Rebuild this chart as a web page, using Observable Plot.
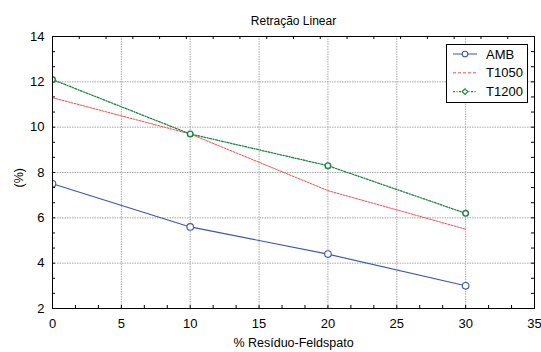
<!DOCTYPE html>
<html>
<head>
<meta charset="utf-8">
<script src="https://cdn.jsdelivr.net/npm/d3@7"></script>
<script src="https://cdn.jsdelivr.net/npm/@observablehq/plot@0.6"></script>
<style>
  html, body { margin: 0; padding: 0; background: #fff; }
</style>
</head>
<body>
<div id="chart"></div>
<script>
// ---- data ----
const title = "Retração Linear";
const xLabel = "% Resíduo-Feldspato";
const yLabel = "(%)";
const seriesNames = ["AMB", "T1050", "T1200"];
const xValues = [0, 10, 20, 30];
const ambValues = [7.5, 5.6, 4.4, 3.0];
const t1050Values = [11.3, 9.7, 7.2, 5.5];
const t1200Values = [12.1, 9.7, 8.3, 6.2];
const xTicks = [0, 5, 10, 15, 20, 25, 30, 35];
const yTicks = [2, 4, 6, 8, 10, 12, 14];

// ---- styles ----
const colors = { AMB: "#3a56b4", T1050: "#ff4a4a", T1200: "#1d8544" };
const dashes = { AMB: null, T1050: "2,1.2", T1200: "2,1.5,1,1.5" };
const legendDashes = { AMB: null, T1050: "3,2", T1200: "2,1.5,1,1.5" };

const W = 541, H = 352;
const mL = 52, mR = 7, mT = 36, mB = 44;
const fw = W - mL - mR, fh = H - mT - mB;

const valuesBySeries = { AMB: ambValues, T1050: t1050Values, T1200: t1200Values };
const rows = seriesNames.flatMap(s => xValues.map((x, i) => ({ series: s, x, y: valuesBySeries[s][i] })));
const bySeries = s => rows.filter(r => r.series === s);

const gridX = xTicks.slice(1, -1);
const gridY = yTicks.slice(1, -1);
const bottomMinor = d3.range(0, 35.001, 5 / 3);
const topMinor = d3.range(0, 35.001, 35 / 18);
const sideMinor = d3.range(2, 14.001, 2 / 3);

const gridStyle = { stroke: "#a8a8a8", strokeDasharray: "1.5,1", strokeWidth: 1 };

const plot = Plot.plot({
  width: W,
  height: H,
  marginLeft: mL, marginRight: mR, marginTop: mT, marginBottom: mB,
  style: { fontFamily: "'Liberation Sans', Arial, sans-serif", fontSize: "13px", background: "#fff", color: "#000" },
  x: { domain: [0, 35], ticks: xTicks, tickSize: 0, tickPadding: 10, label: null },
  y: { domain: [2, 14], ticks: yTicks, tickSize: 0, tickPadding: 8, label: null },
  marks: [
    Plot.ruleX(gridX, { x: d => d, ...gridStyle }),
    Plot.ruleY(gridY, { y: d => d, ...gridStyle }),
    Plot.tickX(bottomMinor, { x: d => d, insetTop: fh - 3, stroke: "#000" }),
    Plot.tickX(topMinor, { x: d => d, insetBottom: fh - 3, stroke: "#000" }),
    Plot.tickY(sideMinor, { y: d => d, insetRight: fw - 3, stroke: "#000" }),
    Plot.tickY(sideMinor, { y: d => d, insetLeft: fw - 3, stroke: "#000" }),
    Plot.line(bySeries("T1050"), { x: "x", y: "y", stroke: colors.T1050, strokeWidth: 1, strokeDasharray: dashes.T1050, clip: true }),
    Plot.line(bySeries("AMB"), { x: "x", y: "y", stroke: colors.AMB, strokeWidth: 1.1, clip: true }),
    Plot.line(bySeries("T1200"), { x: "x", y: "y", stroke: colors.T1200, strokeWidth: 1.3, strokeDasharray: dashes.T1200, clip: true }),
    Plot.dot(bySeries("AMB"), { x: "x", y: "y", r: 3.3, stroke: colors.AMB, fill: "#fff", strokeWidth: 1.1, clip: true }),
    Plot.dot(bySeries("T1200"), { x: "x", y: "y", r: 2.8, stroke: colors.T1200, fill: "#fff", strokeWidth: 1.4, clip: true }),
    Plot.frame({ stroke: "#000", strokeWidth: 1 }),
    Plot.text([title], { frameAnchor: "top", dy: -20.5, text: d => d, fontSize: 12, fill: "#000" }),
    Plot.text([xLabel], { frameAnchor: "bottom", dy: 38.5, text: d => d, fontSize: 12.5, fill: "#000" }),
    Plot.text([yLabel], { frameAnchor: "left", dx: -34, dy: 15, rotate: -90, text: d => d, fontSize: 12.5, fill: "#000" })
  ]
});

document.getElementById("chart").appendChild(plot);

// ---- legend (drawn inside the frame, top-right) ----
const svg = d3.select(plot.tagName.toLowerCase() === "svg" ? plot : plot.querySelector("svg"));
const lx = 446, ly = 44, lw = 81, lh = 58;
const lg = svg.append("g")
  .attr("font-family", "'Liberation Sans', Arial, sans-serif")
  .attr("font-size", 13)
  .attr("text-anchor", "start");
lg.append("rect").attr("x", lx + 0.5).attr("y", ly + 0.5).attr("width", lw).attr("height", lh)
  .attr("fill", "#fff").attr("stroke", "#000").attr("stroke-width", 1);
seriesNames.forEach((s, i) => {
  const cy = 54 + i * 18.8;
  lg.append("line").attr("x1", 453).attr("x2", 477).attr("y1", cy).attr("y2", cy)
    .attr("stroke", colors[s]).attr("stroke-width", s === "T1200" ? 1.3 : 1)
    .attr("stroke-dasharray", legendDashes[s]);
  if (s === "AMB") {
    lg.append("circle").attr("cx", 465).attr("cy", cy).attr("r", 2.8)
      .attr("fill", "#fff").attr("stroke", colors[s]).attr("stroke-width", 1.1);
  } else if (s === "T1200") {
    lg.append("path").attr("d", `M465,${cy - 2.8}L467.8,${cy}L465,${cy + 2.8}L462.2,${cy}Z`)
      .attr("fill", "#fff").attr("stroke", colors[s]).attr("stroke-width", 1.2);
  }
  lg.append("text").attr("x", 486).attr("y", cy).attr("dy", "0.35em")
    .attr("text-anchor", "start").attr("fill", "#000").text(s);
});
</script>
</body>
</html>
